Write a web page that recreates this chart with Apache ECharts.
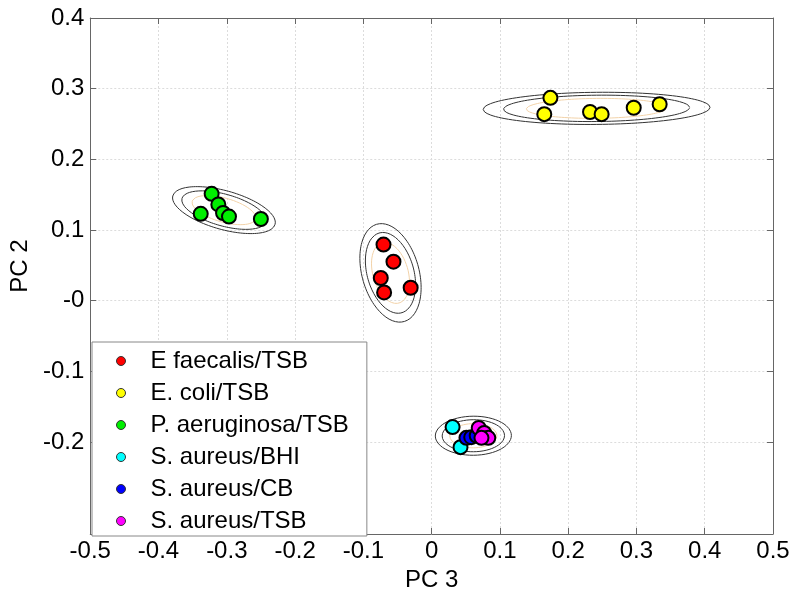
<!DOCTYPE html>
<html>
<head>
<meta charset="utf-8">
<script src="https://cdn.jsdelivr.net/npm/echarts@6/dist/echarts.min.js"></script>
<style>html,body{margin:0;padding:0;background:#fff}#c{width:800px;height:614px}</style>
</head>
<body>
<div id="c"></div>
<script>
// ---- data (PC 3, PC 2) ----
var efaecalisTSB = [[-0.0705, 0.0794], [-0.0559, 0.0553], [-0.0745, 0.0322], [-0.0696, 0.0118], [-0.0307, 0.0184]];
var ecoliTSB = [[0.174, 0.287], [0.165, 0.264], [0.232, 0.267], [0.249, 0.264], [0.296, 0.273], [0.334, 0.278]];
var paeruginosaTSB = [[-0.3222, 0.1513], [-0.3124, 0.1362], [-0.3382, 0.1230], [-0.3055, 0.1241], [-0.2968, 0.1191], [-0.2501, 0.1156]];
var saureusBHI = [[0.0307, -0.1787], [0.0423, -0.2071]];
var saureusCB = [[0.051, -0.194], [0.058, -0.193], [0.066, -0.191]];
var saureusTSB = [[0.069, -0.180], [0.077, -0.187], [0.083, -0.194], [0.073, -0.194]];
var seriesNames = ['E faecalis/TSB', 'E. coli/TSB', 'P. aeruginosa/TSB', 'S. aureus/BHI', 'S. aureus/CB', 'S. aureus/TSB'];
var xTicks = [-0.5, -0.4, -0.3, -0.2, -0.1, 0, 0.1, 0.2, 0.3, 0.4, 0.5];
var yTicks = [-0.2, -0.1, 0, 0.1, 0.2, 0.3, 0.4];
var yTickLabels = ['-0.2', '-0.1', '-0', '0.1', '0.2', '0.3', '0.4'];
// ellipse scale factors (in standard deviations)
var ellipseScales = [1.55, 2.05, 2.5];

var colors = ['#ff0000', '#ffff00', '#00ee00', '#00ffff', '#0000ff', '#ff00ff'];
var groups = [efaecalisTSB, ecoliTSB, paeruginosaTSB, saureusBHI, saureusCB, saureusTSB];
// ellipse clusters: S. aureus groups combined
var clusters = [
  { pts: efaecalisTSB, f: 1 },
  { pts: ecoliTSB, f: 1 },
  { pts: paeruginosaTSB, f: 1 },
  { pts: saureusBHI.concat(saureusCB, saureusTSB), f: 1.3 }
];

function ellipse(pts, k) {
  var n = pts.length, mx = 0, my = 0;
  pts.forEach(function (p) { mx += p[0]; my += p[1]; });
  mx /= n; my /= n;
  var sxx = 0, syy = 0, sxy = 0;
  pts.forEach(function (p) { var dx = p[0] - mx, dy = p[1] - my; sxx += dx * dx; syy += dy * dy; sxy += dx * dy; });
  sxx /= (n - 1); syy /= (n - 1); sxy /= (n - 1);
  var tr = sxx + syy, det = sxx * syy - sxy * sxy;
  var d = Math.sqrt(Math.max(tr * tr / 4 - det, 0));
  var l1 = tr / 2 + d, l2 = Math.max(tr / 2 - d, 0);
  var ang = Math.abs(sxy) < 1e-15 ? (sxx >= syy ? 0 : Math.PI / 2) : Math.atan2(l1 - sxx, sxy);
  var a = k * Math.sqrt(l1), b = k * Math.sqrt(l2);
  var out = [];
  for (var i = 0; i <= 120; i++) {
    var t = 2 * Math.PI * i / 120;
    var ex = a * Math.cos(t), ey = b * Math.sin(t);
    out.push([mx + ex * Math.cos(ang) - ey * Math.sin(ang), my + ex * Math.sin(ang) + ey * Math.cos(ang)]);
  }
  return out;
}

var series = [];
var ellColors = ['#f2d2a8', '#333333', '#333333'];
clusters.forEach(function (c) {
  ellipseScales.forEach(function (k, j) {
    series.push({
      type: 'line', data: ellipse(c.pts, k * c.f), showSymbol: false, silent: true,
      lineStyle: { color: ellColors[j], width: 1 }, z: 1, animation: false
    });
  });
});
groups.forEach(function (g, i) {
  series.push({
    name: seriesNames[i], type: 'scatter', data: g, symbol: 'circle', symbolSize: 14,
    itemStyle: { color: colors[i], borderColor: '#000', borderWidth: 2, opacity: 1 },
    z: 3, animation: false
  });
});

var font = 'Liberation Sans, Arial, Helvetica, sans-serif';
var YMIN = -0.33;
var axisCol = '#666';
var chart = echarts.init(document.getElementById('c'), null, { renderer: 'canvas' });
chart.setOption({
  animation: false,
  textStyle: { fontFamily: font },
  grid: { left: 88, right: 27, top: 18, bottom: 80, show: false },
  legend: {
    data: seriesNames, orient: 'vertical', left: 92, top: 342,
    icon: 'circle', itemWidth: 9, itemHeight: 9, itemGap: 8,
    padding: [7, 18, 3, 24],
    backgroundColor: '#fff', borderColor: '#888', borderWidth: 1,
    itemStyle: { borderWidth: 1, borderColor: '#333' },
    textStyle: { fontSize: 24, color: '#000', fontFamily: font, padding: [0, 0, 0, 20], lineHeight: 24 }
  },
  xAxis: [{
    type: 'value', min: xTicks[0], max: xTicks[xTicks.length - 1], interval: 0.1,
    name: 'PC 3', nameLocation: 'middle', nameGap: 33,
    nameTextStyle: { fontSize: 24, color: '#000' },
    axisLine: { show: true, onZero: false, lineStyle: { color: axisCol } },
    axisTick: { show: true, inside: true, length: 6, lineStyle: { color: axisCol } },
    axisLabel: { fontSize: 24, color: '#000', margin: 5,
      formatter: function (v) { var r = Math.round(v * 10) / 10; return r === 0 ? '0' : String(r); } },
    splitLine: { show: true, lineStyle: { color: '#dcdcdc', type: [2, 2] } }
  }, {
    type: 'value', position: 'top', min: xTicks[0], max: xTicks[xTicks.length - 1], interval: 0.1,
    axisLine: { show: true, onZero: false, lineStyle: { color: axisCol } },
    axisTick: { show: true, inside: true, length: 6, lineStyle: { color: axisCol } },
    axisLabel: { show: false }, splitLine: { show: false }
  }],
  yAxis: [{
    type: 'value', min: YMIN, max: 0.4,
    name: 'PC 2', nameLocation: 'middle', nameGap: 52,
    nameTextStyle: { fontSize: 24, color: '#000', padding: [0, 0, 0, 20] },
    axisLine: { show: true, onZero: false, lineStyle: { color: axisCol } },
    axisTick: { show: true, inside: true, length: 6, lineStyle: { color: axisCol }, customValues: yTicks },
    axisLabel: { fontSize: 24, color: '#000', margin: 6, customValues: yTicks,
      formatter: function (v) { var idx = Math.round(v * 10) + 2; return yTickLabels[idx] || ''; } },
    splitLine: { show: true, lineStyle: { color: '#dcdcdc', type: [2, 2] } }
  }, {
    type: 'value', position: 'right', min: YMIN, max: 0.4,
    axisLine: { show: true, onZero: false, lineStyle: { color: axisCol } },
    axisTick: { show: true, inside: true, length: 6, lineStyle: { color: axisCol }, customValues: yTicks },
    axisLabel: { show: false }, splitLine: { show: false }
  }],
  series: series
});
</script>
</body>
</html>
